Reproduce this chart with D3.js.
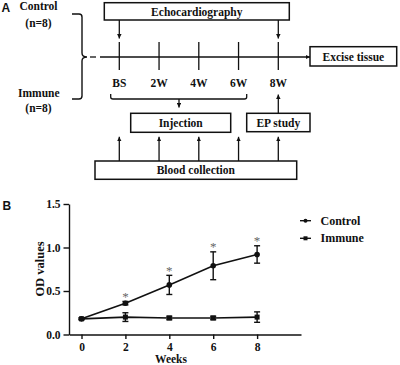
<!DOCTYPE html>
<head>
    <title>Protocol and OD values</title>
    <script src="https://cdn.jsdelivr.net/npm/d3@7"></script>
    <style>
        body { margin: 0; background: #fff; }
        text { font-family: "Liberation Serif", "Times New Roman", serif; font-weight: bold; fill: #111; }
        .panel { font-family: "Liberation Sans", Arial, sans-serif; font-size: 12px; }
        .axis path, .axis line { stroke: #111; stroke-width: 1.4; }
        .axis text { font-family: "Liberation Serif", serif; font-size: 11.5px; font-weight: bold; }
    </style>
</head>
<body>
<div id="container"></div>

<script>
// Panel A: timeline
const timelineWeeks = [0, 2, 4, 6, 8];
const timelineLabels = ["BS", "2W", "4W", "6W", "8W"];
const groupLabels = ["Control", "Immune"];
const groupSizes = ["(n=8)", "(n=8)"];

// Panel B: OD values
const weeks = [0, 2, 4, 6, 8];
const controlMean = [0.18, 0.36, 0.57, 0.79, 0.92];
const controlErr = [0.01, 0.02, 0.11, 0.16, 0.10];
const immuneMean = [0.18, 0.20, 0.19, 0.19, 0.20];
const immuneErr = [0.01, 0.05, 0.02, 0.02, 0.06];
const significant = [false, true, true, true, true];
const xTicks = [0, 2, 4, 6, 8];
const yTicks = [0, 0.5, 1.0, 1.5];
const seriesNames = ["Control", "Immune"];

const W = 400, H = 365;
const svg = d3.select("#container").append("svg")
    .attr("width", W).attr("height", H);

// arrow head
svg.append("defs").append("marker")
    .attr("id", "arr")
    .attr("viewBox", "0 0 10 10")
    .attr("refX", 10).attr("refY", 5)
    .attr("markerWidth", 4.5).attr("markerHeight", 4.5)
    .attr("markerUnits", "userSpaceOnUse")
    .attr("orient", "auto")
    .append("path").attr("d", "M0,0L10,5L0,10z").attr("fill", "#111");

// ---------- Panel A ----------
const A = svg.append("g");
A.append("text").attr("class", "panel").attr("x", 1.5).attr("y", 11.8).text("A");

const tx = d3.scaleLinear().domain([0, 8]).range([119.3, 278.3]);

function line(g, x1, y1, x2, y2, arrow) {
    const l = g.append("line")
        .attr("x1", x1).attr("y1", y1).attr("x2", x2).attr("y2", y2)
        .attr("stroke", "#111").attr("stroke-width", 1.3);
    if (arrow) l.attr("marker-end", "url(#arr)");
    return l;
}
function box(g, x, y, w, h, label, fs) {
    g.append("rect").attr("x", x).attr("y", y).attr("width", w).attr("height", h)
        .attr("fill", "none").attr("stroke", "#111").attr("stroke-width", 1.5);
    g.append("text").attr("x", x + w / 2).attr("y", y + h / 2 + 4.2)
        .attr("text-anchor", "middle").attr("font-size", fs || 11.5).text(label);
}

// groups on the left
A.append("text").attr("x", 38.5).attr("y", 10).attr("text-anchor", "middle").attr("font-size", 11.5).text(groupLabels[0]);
A.append("text").attr("x", 38.5).attr("y", 26.5).attr("text-anchor", "middle").attr("font-size", 11.5).text(groupSizes[0]);
A.append("text").attr("x", 38.8).attr("y", 97).attr("text-anchor", "middle").attr("font-size", 11.5).text(groupLabels[1]);
A.append("text").attr("x", 38.5).attr("y", 111.5).attr("text-anchor", "middle").attr("font-size", 11.5).text(groupSizes[1]);

// brace
A.append("path")
    .attr("d", "M72,14 L79,14 Q82,14 82,17 L82,53 Q82,57 87,57 Q82,57 82,61 L82,96 Q82,99 79,99 L72,99")
    .attr("fill", "none").attr("stroke", "#111").attr("stroke-width", 1.4);

// main timeline
line(A, 90, 57, 96, 57);
line(A, 100, 57, 310, 57, true);
A.selectAll(".tk").data(timelineWeeks).enter().append("line")
    .attr("x1", d => tx(d)).attr("x2", d => tx(d))
    .attr("y1", 42).attr("y2", 70)
    .attr("stroke", "#111").attr("stroke-width", 1.3);
A.selectAll(".tl").data(timelineLabels).enter().append("text")
    .attr("x", (d, i) => tx(timelineWeeks[i])).attr("y", 87)
    .attr("text-anchor", "middle").attr("font-size", 11.5).text(d => d);

// echocardiography
box(A, 104.3, 2.7, 185, 17.3, "Echocardiography");
line(A, tx(0), 20, tx(0), 38.5, true);
line(A, tx(8), 20, tx(8), 38.5, true);

box(A, 310, 46.7, 86.7, 19.3, "Excise tissue");

// injection bracket
A.append("path")
    .attr("d", "M110.7,94 L110.7,97 Q110.7,99 113,99 L244.5,99 Q246.7,99 246.7,97 L246.7,94")
    .attr("fill", "none").attr("stroke", "#111").attr("stroke-width", 1.3);
line(A, 179, 99, 179, 107.5, true);
box(A, 130.7, 113.3, 100, 19, "Injection");

// EP study
box(A, 246.7, 113.3, 63.3, 18.4, "EP study");
line(A, tx(8), 113.3, tx(8), 94.5, true);

// blood collection
box(A, 95, 161, 201.7, 18.3, "Blood collection");
A.selectAll(".bc").data(timelineWeeks).enter().append("line")
    .attr("x1", d => tx(d)).attr("x2", d => tx(d))
    .attr("y1", 161).attr("y2", 136.8)
    .attr("stroke", "#111").attr("stroke-width", 1.3)
    .attr("marker-end", "url(#arr)");

// ---------- Panel B ----------
const B = svg.append("g");
B.append("text").attr("class", "panel").attr("x", 2.5).attr("y", 210).text("B");

const x = d3.scaleLinear().domain([-0.57, 10]).range([69, 301]);
const y = d3.scaleLinear().domain([0, 1.5]).range([334.5, 204]);

B.append("g").attr("class", "axis")
    .attr("transform", `translate(0,${y(0)})`)
    .call(d3.axisBottom(x).tickValues(xTicks).tickSize(4.5).tickSizeOuter(0).tickPadding(3.5).tickFormat(d3.format("d")));
B.append("g").attr("class", "axis")
    .attr("transform", `translate(${x.range()[0]},0)`)
    .call(d3.axisLeft(y).tickValues(yTicks).tickSize(5.5).tickSizeOuter(0).tickPadding(3).tickFormat(d3.format(".1f")));

B.append("text").attr("x", 171).attr("y", 363).attr("text-anchor", "middle").attr("font-size", 11.5).text("Weeks");
B.append("text").attr("transform", "translate(43.5,269) rotate(-90)")
    .attr("text-anchor", "middle").attr("font-size", 12.5).text("OD values");

const series = [
    { name: seriesNames[0], mean: controlMean, err: controlErr, shape: "circle" },
    { name: seriesNames[1], mean: immuneMean, err: immuneErr, shape: "square" }
];

const lineGen = d3.line().x(d => x(d[0])).y(d => y(d[1]));

series.forEach(s => {
    const pts = weeks.map((w, i) => [w, s.mean[i], s.err[i]]);
    B.append("path").datum(pts).attr("d", lineGen)
        .attr("fill", "none").attr("stroke", "#111").attr("stroke-width", 1.6);
    const eb = B.append("g");
    pts.forEach(p => {
        const cx = x(p[0]);
        line(eb, cx, y(p[1] + p[2]), cx, y(p[1] - p[2])).attr("stroke-width", 1.4);
        line(eb, cx - 3, y(p[1] + p[2]), cx + 3, y(p[1] + p[2])).attr("stroke-width", 1.4);
        line(eb, cx - 3, y(p[1] - p[2]), cx + 3, y(p[1] - p[2])).attr("stroke-width", 1.4);
    });
    if (s.shape === "circle") {
        B.selectAll(null).data(pts).enter().append("circle")
            .attr("cx", d => x(d[0])).attr("cy", d => y(d[1])).attr("r", 2.8).attr("fill", "#111");
    } else {
        B.selectAll(null).data(pts).enter().append("rect")
            .attr("x", d => x(d[0]) - 2.5).attr("y", d => y(d[1]) - 2.5)
            .attr("width", 5).attr("height", 5).attr("fill", "#111");
    }
});

// significance stars (grey, normal weight)
B.selectAll(".star").data(weeks.filter((w, i) => significant[i])).enter().append("text")
    .attr("x", d => x(d))
    .attr("y", d => { const i = weeks.indexOf(d); return y(controlMean[i] + controlErr[i]) - 0.5; })
    .attr("text-anchor", "middle")
    .style("font-size", "13px").style("font-weight", "normal").style("fill", "#666")
    .text("*");

// legend
const leg = B.append("g");
series.forEach((s, i) => {
    const ly = 220.7 + i * 17.6;
    line(leg, 300, ly, 311, ly).attr("stroke-width", 1.4);
    if (s.shape === "circle") leg.append("circle").attr("cx", 305.5).attr("cy", ly).attr("r", 2).attr("fill", "#111");
    else leg.append("rect").attr("x", 303.5).attr("y", ly - 2).attr("width", 4).attr("height", 4).attr("fill", "#111");
    leg.append("text").attr("x", 320.5).attr("y", ly + 4).attr("font-size", 12).text(s.name);
});
</script>
</body>
